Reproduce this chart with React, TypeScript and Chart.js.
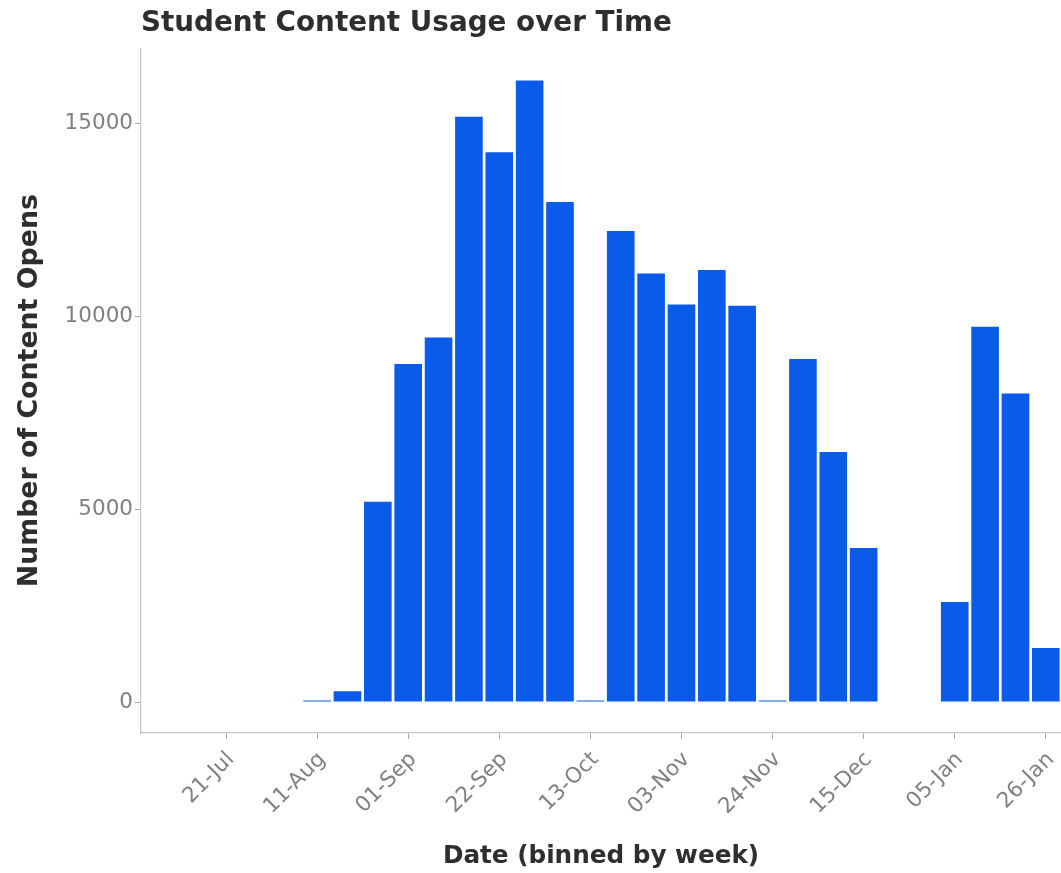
import React, { useEffect, useRef } from "react";
import { Chart, registerables } from "chart.js";

Chart.register(...registerables);

// ---- data ----
const ORIGIN_DATE = "2019-07-21";

const WEEK_STARTS = [
  "2019-08-11", "2019-08-18", "2019-08-25", "2019-09-01", "2019-09-08",
  "2019-09-15", "2019-09-22", "2019-09-29", "2019-10-06", "2019-10-13",
  "2019-10-20", "2019-10-27", "2019-11-03", "2019-11-10", "2019-11-17",
  "2019-11-24", "2019-12-01", "2019-12-08", "2019-12-15",
  "2020-01-05", "2020-01-12", "2020-01-19", "2020-01-26",
];

const CONTENT_OPENS = [
  40, 280, 5190, 8760, 9450,
  15170, 14250, 16110, 12960, 40,
  12210, 11110, 10305, 11200, 10270,
  40, 8890, 6480, 3990,
  2590, 9730, 8000, 1400,
];

const TICK_DATES = [
  "2019-07-21", "2019-08-11", "2019-09-01", "2019-09-22", "2019-10-13",
  "2019-11-03", "2019-11-24", "2019-12-15", "2020-01-05", "2020-01-26",
];

const TICK_LABELS = [
  "21-Jul", "11-Aug", "01-Sep", "22-Sep", "13-Oct",
  "03-Nov", "24-Nov", "15-Dec", "05-Jan", "26-Jan",
];

const Y_TICKS = [0, 5000, 10000, 15000];

function weeksSince(d: string): number {
  return Math.round((Date.parse(d) - Date.parse(ORIGIN_DATE)) / 86400000) / 7;
}

const W = 1061;
const H = 873;

export default function App() {
  const ref = useRef<HTMLCanvasElement | null>(null);

  useEffect(() => {
    const canvas = ref.current;
    if (!canvas) return;
    const tickFont = { family: "DejaVu Sans", size: 21.5 };
    const gridOpts = {
      display: true,
      offset: false,
      drawOnChartArea: false,
      drawTicks: true,
      tickLength: 6,
      tickColor: "#a8a8a8",
      color: "#a8a8a8",
    };
    const chart = new Chart(canvas, {
      type: "bar",
      data: {
        datasets: [
          {
            data: WEEK_STARTS.map((d, i) => ({ x: weeksSince(d), y: CONTENT_OPENS[i] })),
            backgroundColor: "#0B5BEB",
            borderWidth: 0,
            barPercentage: 0.91,
            categoryPercentage: 1,
          },
        ],
      },
      options: {
        animation: false,
        responsive: false,
        maintainAspectRatio: false,
        layout: { padding: { left: 0, right: 0, top: 0, bottom: 2 } },
        plugins: {
          legend: { display: false },
          tooltip: { enabled: false },
          title: {
            display: true,
            text: "Student Content Usage over Time",
            align: "start",
            fullSize: false,
            color: "#2e2e2e",
            font: { family: "DejaVu Sans", size: 27.8, weight: "bold" },
            padding: { top: 7, bottom: 8 },
          },
        },
        scales: {
          x: {
            type: "linear",
            offset: false,
            min: -2.8,
            max: 27.5,
            afterBuildTicks: (s: any) => {
              s.ticks = TICK_DATES.map((d) => ({ value: weeksSince(d) }));
            },
            afterFit: (s: any) => {
              s.height = H - 733 - 2;
              s.paddingRight = 0;
              s.paddingLeft = 0;
            },
            ticks: {
              autoSkip: false,
              maxRotation: 45,
              minRotation: 45,
              color: "#808080",
              font: tickFont,
              padding: 8,
              labelOffset: 5,
              callback: (_v: any, i: number) => TICK_LABELS[i],
            },
            grid: gridOpts,
            border: { display: true, color: "#c4c4c4", width: 1.2 },
            title: {
              display: true,
              text: "Date (binned by week)",
              color: "#2e2e2e",
              font: { family: "DejaVu Sans", size: 24.7, weight: "bold" },
              padding: { top: 0, bottom: 0 },
            },
          },
          y: {
            type: "linear",
            min: -803,
            max: 16943,
            afterBuildTicks: (s: any) => {
              s.ticks = Y_TICKS.map((v) => ({ value: v }));
            },
            afterFit: (s: any) => {
              s.width = 141;
            },
            ticks: {
              color: "#808080",
              font: tickFont,
              padding: 2,
              callback: (v: any) => String(v),
            },
            grid: gridOpts,
            border: { display: true, color: "#c4c4c4", width: 1.2 },
            title: {
              display: true,
              text: "Number of Content Opens",
              color: "#2e2e2e",
              font: { family: "DejaVu Sans", size: 26.8, weight: "bold" },
              padding: { top: 14, bottom: 0 },
            },
          },
        },
      },
    } as any);
    return () => chart.destroy();
  }, []);

  return (
    <div style={{ position: "fixed", left: 0, top: 0, width: W, height: H, background: "#fff" }}>
      <canvas ref={ref} width={W} height={H} style={{ display: "block", width: W, height: H }} />
    </div>
  );
}
